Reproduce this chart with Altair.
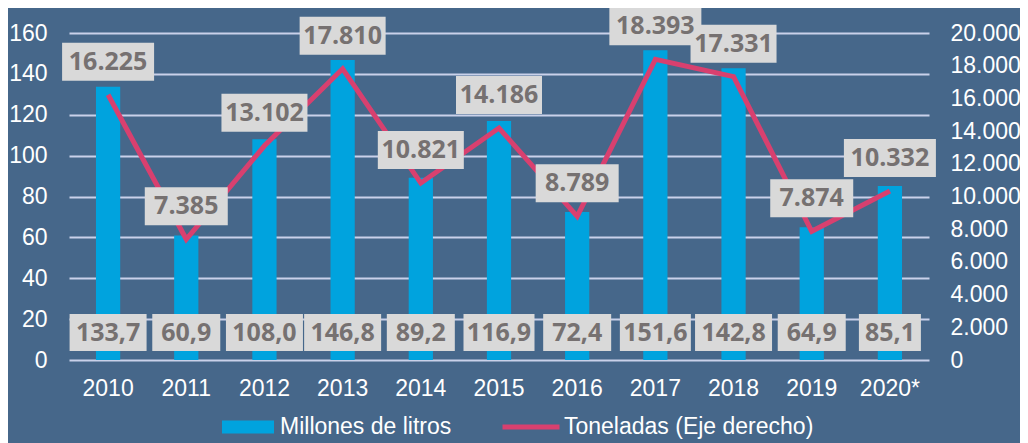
import altair as alt
import pandas as pd

years = ["2010", "2011", "2012", "2013", "2014", "2015", "2016", "2017", "2018", "2019", "2020*"]
litros = [133.7, 60.9, 108.0, 146.8, 89.2, 116.9, 72.4, 151.6, 142.8, 64.9, 85.1]
toneladas = [16225, 7385, 13102, 17810, 10821, 14186, 8789, 18393, 17331, 7874, 10332]
serie_barras = "Millones de litros"
serie_linea = "Toneladas (Eje derecho)"

BG = "#46678A"
BLUE = "#00A3DE"
PINK = "#D8406F"
BOX = "#D9D9D9"
BOXTXT = "#767171"
GRID = "#C9D1EA"
FONT = "Liberation Sans"


def box_width(s):
    w = 0
    for c in s:
        if c == "1":
            w += 9
        elif c in ".,":
            w += 6
        else:
            w += 15
    return w + 17


lit_lab = [f"{v:.1f}".replace(".", ",") for v in litros]
ton_lab = [f"{v:,}".replace(",", ".") for v in toneladas]

df = pd.DataFrame({
    "year": years,
    "litros": litros,
    "toneladas": toneladas,
    "lit_lab": lit_lab,
    "ton_lab": ton_lab,
    "bw_l": [box_width(s) for s in lit_lab],
    "bw_t": [box_width(s) for s in ton_lab],
    "serie_b": [serie_barras] * len(years),
    "serie_t": [serie_linea] * len(years),
})

x_axis = alt.Axis(labelAngle=0, labelColor="white", labelFontSize=23, labelFont=FONT,
                  domain=False, ticks=False, title=None, labelPadding=17)
X = alt.X("year:N", sort=years, scale=alt.Scale(paddingInner=0.69, paddingOuter=0.345), axis=x_axis)

base = alt.Chart(df)

bars = base.mark_bar().encode(
    x=X,
    y=alt.Y("litros:Q", scale=alt.Scale(domain=[0, 160], nice=False),
            axis=alt.Axis(values=list(range(0, 161, 20)), grid=True, gridColor=GRID, gridWidth=2,
                          domain=False, ticks=False, labelPadding=22, labelFontSize=23,
                          labelColor="white", labelFont=FONT, title=None)),
    fill=alt.Fill("serie_b:N", scale=alt.Scale(domain=[serie_barras], range=[BLUE]),
                  legend=alt.Legend(orient="none", legendX=153, legendY=368, title=None,
                                    symbolType="M-1,-0.25L1,-0.25L1,0.25L-1,0.25Z",
                                    symbolSize=2704, symbolStrokeWidth=0, symbolOpacity=1,
                                    labelFontSize=23, labelColor="white", labelFont=FONT,
                                    labelOffset=6, labelLimit=0)),
)

bottom_boxes = base.mark_rule(color=BOX).encode(
    x=X,
    y=alt.value(281),
    y2=alt.value(318),
    strokeWidth=alt.StrokeWidth("bw_l:Q", scale=None),
)

bottom_text = base.mark_text(font="Open Sans", fontWeight="bold", fontSize=25,
                             color=BOXTXT, baseline="middle").encode(
    x=X,
    y=alt.value(299.5),
    text="lit_lab:N",
)

left = alt.layer(bars, bottom_boxes, bottom_text)

Y_R = alt.Y("toneladas:Q", scale=alt.Scale(domain=[0, 20000], nice=False),
            axis=alt.Axis(orient="right", values=list(range(0, 20001, 2000)), grid=False,
                          domain=False, ticks=False, labelPadding=21, labelFontSize=23,
                          labelColor="white", labelFont=FONT, title=None,
                          labelExpr="replace(format(datum.value, ','), ',', '.')"))

line = base.mark_line(strokeWidth=5).encode(
    x=X,
    y=Y_R,
    stroke=alt.Stroke("serie_t:N", scale=alt.Scale(domain=[serie_linea], range=[PINK]),
                      legend=alt.Legend(orient="none", legendX=431, legendY=363, title=None,
                                        symbolType="stroke", symbolSize=3249,
                                        symbolStrokeWidth=5, symbolOpacity=1,
                                        labelFontSize=23, labelColor="white", labelFont=FONT,
                                        labelOffset=2, labelLimit=0)),
)

top_boxes = base.mark_rule(color=BOX, yOffset=-14, y2Offset=-52).encode(
    x=X,
    y=Y_R,
    y2="toneladas:Q",
    strokeWidth=alt.StrokeWidth("bw_t:Q", scale=None),
)

top_text = base.mark_text(font="Open Sans", fontWeight="bold", fontSize=25,
                          color=BOXTXT, baseline="middle", dy=-33).encode(
    x=X,
    y=Y_R,
    text="ton_lab:N",
)

right = alt.layer(line, top_boxes, top_text)

chart = alt.layer(left, right).resolve_scale(y="independent").properties(
    width=860, height=327,
    autosize=alt.AutoSizeParams(type="none"),
    padding={"left": 61, "top": 25, "right": 91, "bottom": 83},
    background=BG,
).configure_view(stroke=None)

chart.save("out.html", embed_options={"renderer": "svg", "actions": False})
